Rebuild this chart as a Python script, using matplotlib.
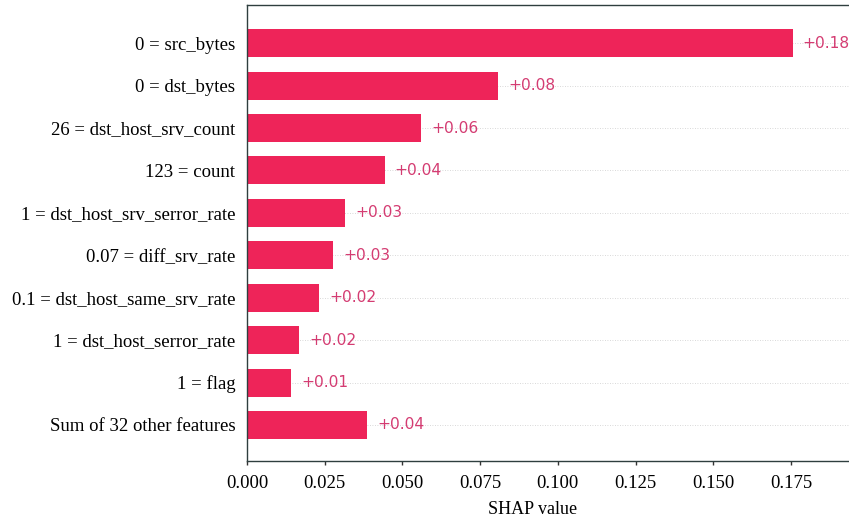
import matplotlib
matplotlib.use("Agg")
import matplotlib.pyplot as plt
import numpy as np

features = [
    "0 = src_bytes",
    "0 = dst_bytes",
    "26 = dst_host_srv_count",
    "123 = count",
    "1 = dst_host_srv_serror_rate",
    "0.07 = diff_srv_rate",
    "0.1 = dst_host_same_srv_rate",
    "1 = dst_host_serror_rate",
    "1 = flag",
    "Sum of 32 other features",
]
shap_values = [0.1756, 0.0808, 0.0561, 0.0443, 0.0316, 0.0278, 0.0233, 0.0168, 0.0143, 0.0387]
value_labels = ["+0.18", "+0.08", "+0.06", "+0.04", "+0.03", "+0.03", "+0.02", "+0.02", "+0.01", "+0.04"]
xticks = [0.000, 0.025, 0.050, 0.075, 0.100, 0.125, 0.150, 0.175]

bar_color = "#ee2459"
text_color = "#d43c72"
serif = ["Liberation Serif", "DejaVu Serif"]

fig = plt.figure(figsize=(8.49, 5.22), dpi=100)
ax = fig.add_axes([247 / 849, 1 - 461 / 522, 1.01 - 247 / 849, (461 - 5) / 522])

n = len(features)
ypos = np.arange(n)[::-1]

for y in ypos:
    ax.axhline(y, color="#cccccc", lw=0.6, dashes=(1, 2), zorder=0)

ax.barh(ypos, shap_values, height=0.66, color=bar_color, zorder=2)

for y, v, lab in zip(ypos, shap_values, value_labels):
    ax.text(v + 0.0032, y, lab, color=text_color, fontsize=11.2,
            va="center", ha="left", family="DejaVu Sans", zorder=3)

xmax = (849 * 1.01 - 247) / (791 - 247) * 0.175
ax.set_xlim(0, xmax)
ax.set_ylim(-0.85, n - 1 + 0.9)

ax.set_yticks(ypos)
ax.set_yticklabels(features, family=serif, fontsize=13.5)
ax.tick_params(axis="y", length=0, pad=8.5)

ax.set_xticks(xticks)
ax.set_xticklabels([f"{t:.3f}" for t in xticks], family=serif, fontsize=13.5)
ax.tick_params(axis="x", length=3, width=1, color="#333333", pad=7)
ax.set_xlabel("SHAP value", family=serif, fontsize=13)
ax.xaxis.set_label_coords((533 - 247) / (849 * 1.01 - 247), -0.087)

for s in ["left", "bottom", "top", "right"]:
    ax.spines[s].set_color("#2f3f3f")
    ax.spines[s].set_linewidth(1.0)

fig.savefig("out.png", dpi=100)
